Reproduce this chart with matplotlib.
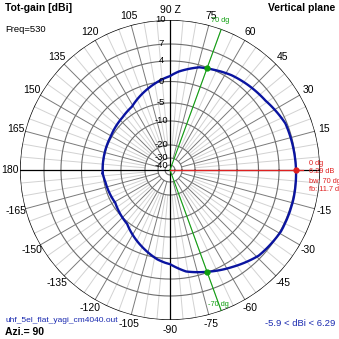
import numpy as np
import matplotlib
matplotlib.use("Agg")
import matplotlib.pyplot as plt

# ---------------- data ----------------
ring_db = [10, 7, 4, 0, -5, -10, -20, -30, -40]
ring_labels = ["10", "7", "4", "0", "-5", "-10", "-20", "-30", "-40"]
angle_ticks = [0, 15, 30, 45, 60, 75, 90, 105, 120, 135, 150, 165, 180,
               -165, -150, -135, -120, -105, -90, -75, -60, -45, -30, -15]
angle_tick_labels = ["", "15", "30", "45", "60", "75", "90 Z", "105", "120", "135",
                     "150", "165", "180", "-165", "-150", "-135", "-120", "-105",
                     "-90", "-75", "-60", "-45", "-30", "-15"]

pattern_deg = [-177, -169, -149, -128.5, -111, -98, -93, -90, -81, -70, -57, -44,
               -29, -13, 0, 9, 22, 36, 47, 57, 70, 74, 85, 88, 90, 94, 98, 110, 121,
               132, 151, 169]
pattern_db = [-4.93, -5.39, -5.9, -4.58, -1.75, 0.35, 0.85, 1.1, 2.77, 3.86, 5.13,
              6.52, 7.1, 7.1, 7.0, 6.88, 6.72, 5.59, 5.14, 4.7, 3.8, 3.57, 2.0, 1.45,
              1.05, 0.6, 0.1, -1.72, -3.4, -4.1, -4.77, -4.9]

max_deg, max_db = 0, 7.0
bw_deg = [70, -70]
bw_db = [3.8, 3.86]

# radial scale of the chart (dB -> fraction of outer radius)
scale_db = [-50, -40, -30, -20, -10, -5, 0, 4, 7, 10]
scale_frac = [0.0, 0.033, 0.08, 0.167, 0.327, 0.447, 0.59, 0.727, 0.84, 1.0]

def fwd(x):
    return np.interp(np.asarray(x, float), scale_db, scale_frac)

def inv(y):
    return np.interp(np.asarray(y, float), scale_frac, scale_db)

W = 339
fig = plt.figure(figsize=(W / 100, W / 100), dpi=100)
fig.patch.set_facecolor("white")
plt.rcParams["font.family"] = ["Liberation Sans", "DejaVu Sans"]

ax = fig.add_axes([20 / W, 19 / W, 300 / W, 300 / W], projection="polar")
ax.set_rscale("function", functions=(fwd, inv))
ax.set_rlim(-50, 10)
ax.set_theta_zero_location("E")
ax.grid(False)
ax.set_xticks([])
ax.set_yticks([])
ax.spines["polar"].set_visible(False)
ax.set_facecolor("none")

th = np.linspace(0, 2 * np.pi, 721)
# spokes
for a in range(0, 360, 5):
    t = np.deg2rad(a)
    if a % 90 == 0:
        continue
    elif a % 15 == 0:
        ax.plot([t, t], [-30, 10], color="#7a7a7a", lw=0.7, zorder=1)
    else:
        ax.plot([t, t], [-20, 10], color="#d2d2d2", lw=0.7, zorder=0.5)
# rings
for d in ring_db:
    if d == 10:
        ax.plot(th, np.full_like(th, d), color="black", lw=1.0, zorder=2)
    else:
        ax.plot(th, np.full_like(th, d), color="#6e6e6e", lw=0.8, zorder=1.5)
# main axes
for a in (0, 90, 180, 270):
    t = np.deg2rad(a)
    ax.plot([t, t], [-50, 10], color="black", lw=0.9, zorder=2)

# beamwidth lines
for a in bw_deg:
    t = np.deg2rad(a)
    ax.plot([t, t], [-50, 10], color="#10a010", lw=0.8, zorder=3)
# max direction line
ax.plot([np.deg2rad(max_deg)] * 2, [-50, 7.9], color="#e02020", lw=0.9, zorder=3)

# pattern
pt = np.deg2rad(pattern_deg + [pattern_deg[0] + 360])
pr = pattern_db + [pattern_db[0]]
line, = ax.plot(pt, pr, color="#0a14a0", lw=1.7, zorder=4, solid_joinstyle="round")
line.get_path()._interpolation_steps = 40
ax.plot(np.deg2rad(bw_deg), bw_db, "o", color="#10a010", ms=3.5, zorder=5)
ax.plot([np.deg2rad(max_deg)], [max_db], "o", color="#e02020", ms=3.5, zorder=5)

# ring labels along vertical axis
off = matplotlib.transforms.ScaledTranslation(-9 / 100, 0, fig.dpi_scale_trans)
for d, lab in zip(ring_db, ring_labels):
    ax.text(np.pi / 2, d, lab, fontsize=6.8, ha="center", va="center",
            transform=ax.transData + off, zorder=6)

# angle labels
for a, lab in zip(angle_ticks, angle_tick_labels):
    if not lab:
        continue
    t = np.deg2rad(a)
    k = 1.065
    ax.text(0.5 + 0.5 * k * np.cos(t), 0.5 + 0.5 * k * np.sin(t), lab,
            transform=ax.transAxes, fontsize=7.5, ha="center", va="center",
            clip_on=False)

def px(x, y):
    return x / W, 1 - y / W

fig.text(*px(5, 8), "Tot-gain [dBi]", fontsize=7.5, fontweight="bold", va="center", ha="left")
fig.text(*px(5, 30), "Freq=530", fontsize=6.8, va="center", ha="left")
fig.text(*px(335, 8), "Vertical plane", fontsize=7.5, fontweight="bold", va="center", ha="right")
fig.text(*px(5, 321), "uhf_5el_flat_yagi_cm4040.out", fontsize=6.0, color="#1a2ab0", va="center", ha="left")
fig.text(*px(5, 332), "Azi.= 90", fontsize=7.5, fontweight="bold", va="center", ha="left")
fig.text(*px(335, 323), "-5.9 < dBi < 6.29", fontsize=6.8, color="#1a2ab0", va="center", ha="right")
fig.text(*px(211, 21), "70 dg", fontsize=5.3, color="#10a010", va="center", ha="left")
fig.text(*px(208, 305), "-70 dg", fontsize=5.3, color="#10a010", va="center", ha="left")
for yy, s in zip([163.5, 171.5, 181.5, 189.5], ["0 dg", "6.29 dB", "bw: 70 dg", "fb: 11.7 dB"]):
    fig.text(*px(309, yy), s, fontsize=5.3, color="#e02020", va="center", ha="left")

fig.savefig("out.png", dpi=100, facecolor="white")
